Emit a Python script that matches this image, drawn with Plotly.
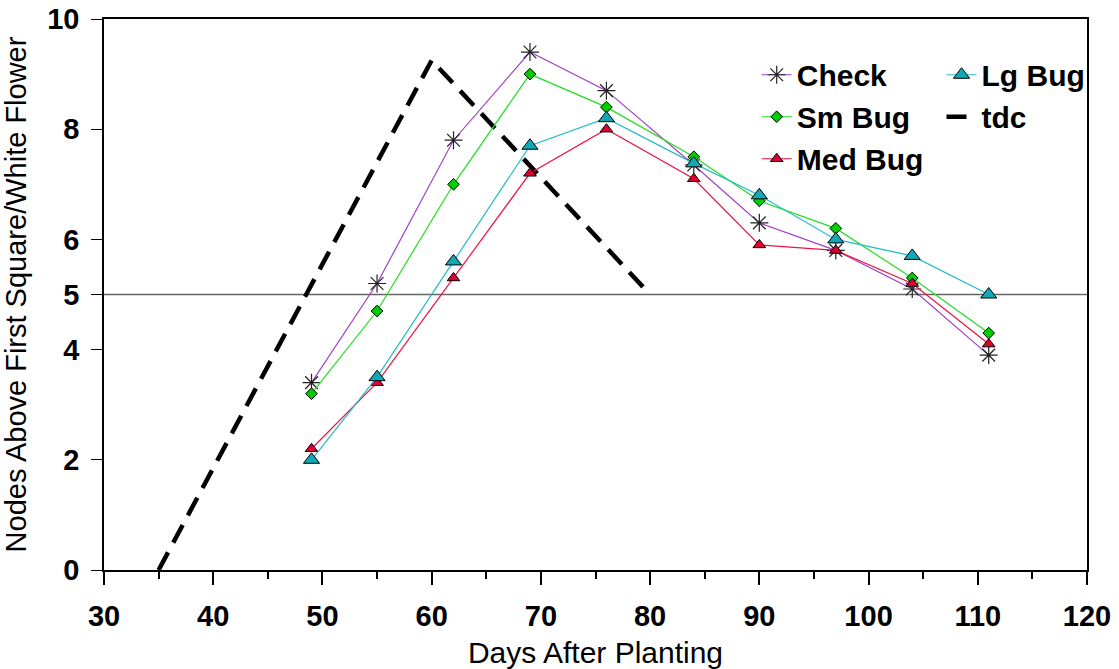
import plotly.graph_objects as go

days = [49, 55, 62, 69, 76, 84, 90, 97, 104, 111]
check = [3.4, 5.2, 7.8, 9.4, 8.7, 7.35, 6.3, 5.8, 5.1, 3.9]
sm_bug = [3.2, 4.7, 7.0, 9.0, 8.4, 7.5, 6.7, 6.2, 5.3, 4.3]
med_bug = [2.2, 3.4, 5.3, 7.2, 8.0, 7.1, 5.9, 5.8, 5.2, 4.1]
lg_bug = [2.0, 3.5, 5.6, 7.7, 8.2, 7.38, 6.8, 6.0, 5.7, 5.0]
tdc_x = [35, 60, 80]
tdc_y = [0, 9.25, 5.0]
x_ticks = [30, 40, 50, 60, 70, 80, 90, 100, 110, 120]
x_minor = [35, 45, 55, 65, 75, 85, 95, 105, 115]
y_ticks = [0, 2, 4, 5, 6, 8, 10]
threshold = 5

font_fam = "Liberation Sans, Arial, sans-serif"

fig = go.Figure()

fig.add_trace(go.Scatter(x=[30, 120], y=[threshold, threshold], mode="lines",
                         line=dict(color="#666666", width=1.5), showlegend=False,
                         hoverinfo="skip"))

fig.add_trace(go.Scatter(x=tdc_x, y=tdc_y, mode="lines", name="tdc",
                         line=dict(color="black", width=4.5, dash="20px,11px"),
                         legend="legend2"))

fig.add_trace(go.Scatter(x=days, y=check, mode="lines+markers", name="Check",
                         line=dict(color="#a040c8", width=1.2),
                         marker=dict(symbol="asterisk-open", size=15, color="#222222",
                                     line=dict(color="#222222", width=1.2)),
                         legend="legend"))
fig.add_trace(go.Scatter(x=days, y=sm_bug, mode="lines+markers", name="Sm Bug",
                         line=dict(color="#22dd22", width=1.2),
                         marker=dict(symbol="diamond", size=9, color="#00cc00",
                                     line=dict(color="black", width=1)),
                         legend="legend"))
fig.add_trace(go.Scatter(x=days, y=med_bug, mode="lines+markers", name="Med Bug",
                         line=dict(color="#ee1144", width=1.2),
                         marker=dict(symbol="triangle-up", size=11, color="#dd0033",
                                     line=dict(color="black", width=1)),
                         legend="legend"))
fig.add_trace(go.Scatter(x=days, y=lg_bug, mode="lines+markers", name="Lg Bug",
                         line=dict(color="#22bbcc", width=1.2),
                         marker=dict(symbol="triangle-up", size=14, color="#11a8b8",
                                     line=dict(color="black", width=1)),
                         legend="legend2"))

legend_font = dict(family=font_fam, size=30, color="black", weight="bold")

fig.update_layout(
    width=1119, height=669,
    margin=dict(l=104, r=32, t=19, b=99),
    paper_bgcolor="white", plot_bgcolor="white",
    font=dict(family=font_fam, color="black"),
    legend=dict(x=0.664, y=0.946, xanchor="left", yanchor="top",
                font=legend_font, bgcolor="rgba(0,0,0,0)",
                traceorder="normal"),
    legend2=dict(x=0.852, y=0.946, xanchor="left", yanchor="top",
                 font=legend_font, bgcolor="rgba(0,0,0,0)",
                 traceorder="reversed"),
    xaxis=dict(range=[30, 120], tickvals=x_ticks, ticks="outside", ticklen=13,
               tickwidth=1.5, tickcolor="black", automargin=False,
               minor=dict(tickvals=x_minor, ticks="outside", ticklen=7,
                          tickcolor="black", tickwidth=1.5),
               showline=True, linecolor="black", linewidth=1.5, mirror=True,
               showgrid=False, zeroline=False, ticklabelstandoff=6,
               ticklabeloverflow="allow",
               tickfont=dict(family=font_fam, size=29, weight="bold"),
               title=dict(text="Days After Planting",
                          font=dict(family=font_fam, size=30), standoff=12)),
    yaxis=dict(range=[0, 10], tickvals=y_ticks, ticks="outside", ticklen=11,
               tickwidth=1, tickcolor="black", automargin=False,
               showline=True, linecolor="black", linewidth=1.5, mirror=True,
               showgrid=False, zeroline=False, ticklabelstandoff=6,
               ticklabeloverflow="allow",
               tickfont=dict(family=font_fam, size=29, weight="bold"),
               title=dict(text="Nodes Above First Square/White Flower",
                          font=dict(family=font_fam, size=29), standoff=12)),
)

fig.write_html("out.html", config={"displayModeBar": False},
               post_script="document.body.style.margin='0';")
